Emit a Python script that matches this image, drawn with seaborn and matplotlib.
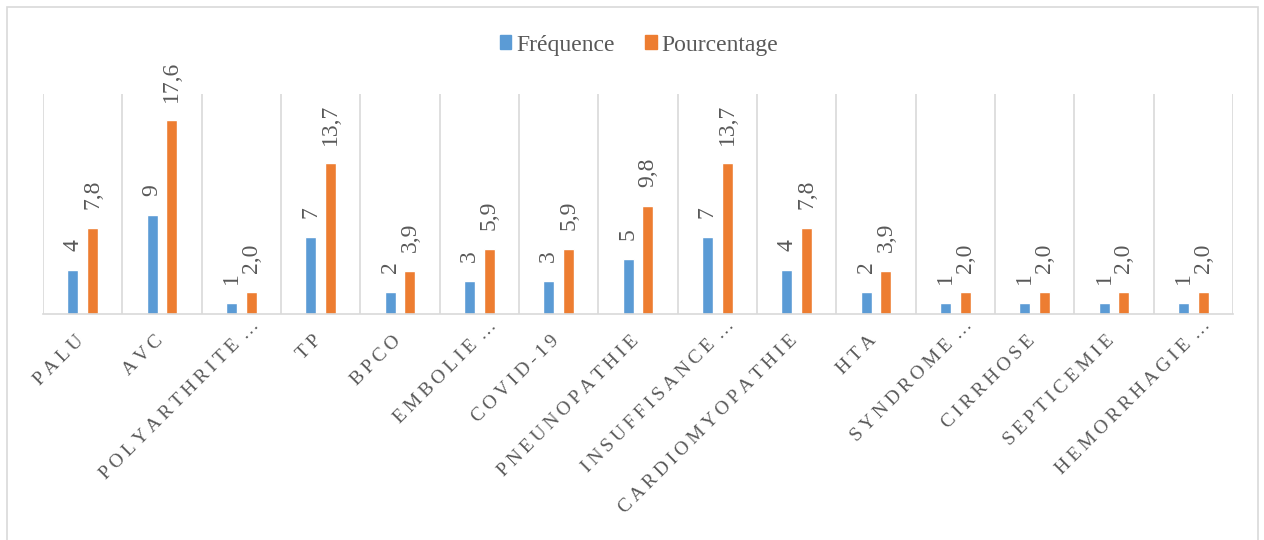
import pandas as pd
import numpy as np
import matplotlib.pyplot as plt
import matplotlib.transforms as mtransforms
import seaborn as sns
from matplotlib.patches import Rectangle, Patch

# données
categories = ['PALU', 'AVC', 'POLYARTHRITE …', 'TP', 'BPCO', 'EMBOLIE …', 'COVID-19',
              'PNEUNOPATHIE', 'INSUFFISANCE …', 'CARDIOMYOPATHIE', 'HTA', 'SYNDROME …',
              'CIRRHOSE', 'SEPTICEMIE', 'HEMORRHAGIE …']
frequence = [4, 9, 1, 7, 2, 3, 3, 5, 7, 4, 2, 1, 1, 1, 1]
pourcentage = [7.8, 17.6, 2.0, 13.7, 3.9, 5.9, 5.9, 9.8, 13.7, 7.8, 3.9, 2.0, 2.0, 2.0, 2.0]
series = ['Fréquence', 'Pourcentage']

df = pd.DataFrame({
    'cat': categories * 2,
    'serie': [series[0]] * len(categories) + [series[1]] * len(categories),
    'val': frequence + pourcentage,
})

sns.set_style('white')
plt.rcParams['font.family'] = ['Liberation Serif', 'DejaVu Serif']
grey = '#595959'
colors = ['#5B9BD5', '#ED7D31']

fig = plt.figure(figsize=(12.64, 5.4), dpi=100)
ax = fig.add_axes([43 / 1264, 1 - 314 / 540, (1233 - 43) / 1264, 220 / 540])

sns.barplot(data=df, x='cat', y='val', hue='serie', palette=colors,
            width=0.5, gap=0.44, ax=ax, legend=False, saturation=1)

ax.set_ylim(0, 20)
ax.set_xlim(-0.5, len(categories) - 0.5)
ax.set_xlabel('')
ax.set_ylabel('')
ax.set_yticks([])
for s in ['top', 'right', 'left']:
    ax.spines[s].set_visible(False)
ax.spines['bottom'].set_color('#d9d9d9')
ax.spines['bottom'].set_linewidth(1.2)

# séparateurs verticaux entre catégories
for x in np.arange(-0.5, len(categories), 1.0):
    ax.axvline(x, color='#d9d9d9', lw=1.2, zorder=0)

# étiquettes de données
for cont, vals, fmt in zip(ax.containers, [frequence, pourcentage], ['{:d}', '{:.1f}']):
    for bar, v in zip(cont, vals):
        txt = fmt.format(v).replace('.', ',')
        ax.annotate(txt, (bar.get_x() + bar.get_width() / 2, bar.get_height()),
                    xytext=(0, 13.5), textcoords='offset points', rotation=90,
                    ha='center', va='bottom', fontsize=17, color=grey,
                    annotation_clip=False)

# libellés espacés (comme Excel)
def espacer(c):
    return '\u2009'.join(c.replace(' …', '…')).replace('\u2009…', '\u2009\u2009…')

ax.set_xticks(range(len(categories)))
ax.set_xticklabels([espacer(c) for c in categories], rotation=45, ha='right',
                   rotation_mode='anchor', fontsize=14, color=grey)
ax.tick_params(axis='x', length=0, pad=13)
for lab, c in zip(ax.get_xticklabels(), categories):
    # les points de suspension débordent au-delà de la graduation
    dx, dy = (17, 15) if c.endswith('…') else (0, 0)
    shift = mtransforms.ScaledTranslation((dx - 8) / 100, dy / 100, fig.dpi_scale_trans)
    lab.set_transform(lab.get_transform() + shift)

handles = [Patch(color=c, label=s) for c, s in zip(colors, series)]
leg = fig.legend(handles=handles, loc='center', bbox_to_anchor=(0.5 + 7 / 1264, 1 - 45 / 540),
                 ncol=2, frameon=False, fontsize=17, handlelength=0.5, handleheight=0.5,
                 handletextpad=0.2, columnspacing=1.3)
for t in leg.get_texts():
    t.set_color(grey)

fig.patches.append(Rectangle((7 / 1264, -0.1), 1251 / 1264, 1.1 - 7 / 540,
                             transform=fig.transFigure, fill=False,
                             edgecolor='#d9d9d9', lw=1.2))

fig.savefig('out.png', dpi=100)
